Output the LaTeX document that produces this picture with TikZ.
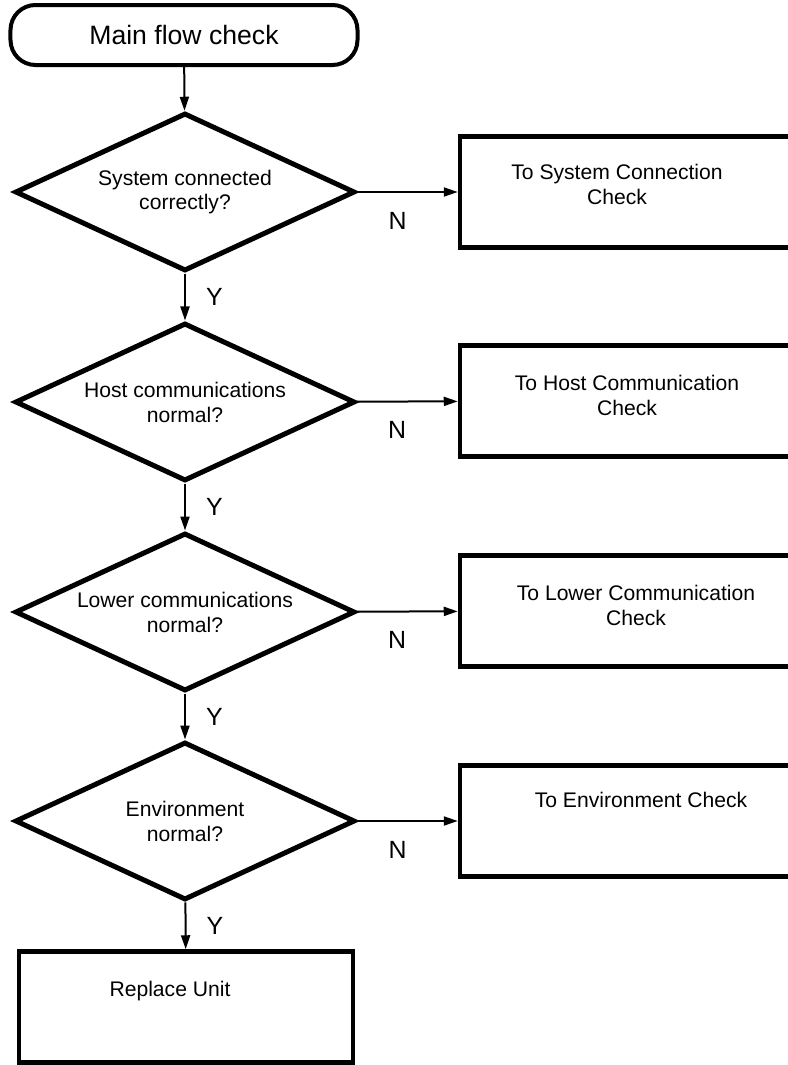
\documentclass[tikz,border=0pt]{standalone}
\usepackage{fontspec}
\setmainfont{Liberation Sans}
\usetikzlibrary{arrows.meta,positioning,shapes.geometric}

\begin{document}
\begin{tikzpicture}[x=1bp,y=-1bp,>={Triangle[length=14bp,width=9bp]},
  font=\fontsize{21.2}{25}\selectfont,
  term/.style={draw,line width=4bp,rounded corners=25bp,minimum width=347bp,minimum height=60bp,font=\fontsize{26.7}{30}\selectfont},
  decide/.style={draw,diamond,line width=5bp,inner sep=0pt,shape aspect=2.15,minimum width=340bp,minimum height=158bp,align=center},
  outbox/.style={draw,line width=4.5bp,minimum width=334bp,minimum height=111bp},
  boxtext/.style={align=center,inner sep=0pt},
  flow/.style={->,line width=2bp},
  yes/.style={right,inner sep=0pt,xshift=20bp,font=\fontsize{25}{30}\selectfont},
  no/.style={below,inner sep=0pt,yshift=-19bp,font=\fontsize{25}{30}\selectfont}]
  \path[use as bounding box] (0,0) rectangle (788,1065);
  \clip (0,0) rectangle (788,1065);
  % main column
  \node[term] (start) at (184,35) {Main flow check};
  \node[decide] (d1) at (185,192) {System connected\\ correctly?};
  \node[decide] (d2) at (185,402) {Host communications\\ normal?};
  \node[decide] (d3) at (185,612) {Lower communications\\ normal?};
  \node[decide] (d4) at (185,821) {Environment\\ normal?};
  \node[outbox] (rep) at (186,1007) {};
  \node[boxtext,below=32bp of rep.north,xshift=-16bp] (reptxt) {Replace Unit};
  % right column
  \node[outbox] (b1) at (627,192) {};
  \node[outbox] (b2) at (627,401) {};
  \node[outbox] (b3) at (627,611) {};
  \node[outbox] (b4) at (627,821) {};
  \node[boxtext,below=30bp of b1.north,xshift=-10bp] (b1txt) {To System Connection\\ Check};
  \node[boxtext,below=32bp of b2.north] (b2txt) {To Host Communication\\ Check};
  \node[boxtext,below=32bp of b3.north,xshift=9bp] (b3txt) {To Lower Communication\\ Check};
  \node[boxtext,below=29bp of b4.north,xshift=14bp] (b4txt) {To Environment Check};
  % connectors
  \draw[flow] (start) -- (d1);
  \draw[flow] (d1) -- node[yes] (y1) {Y} (d2);
  \draw[flow] (d2) -- node[yes] (y2) {Y} (d3);
  \draw[flow] (d3) -- node[yes] (y3) {Y} (d4);
  \draw[flow] (d4) -- node[yes] (y4) {Y} (rep);
  \draw[flow] (d1) -- node[no,pos=0.4] (n1) {N} (b1);
  \draw[flow] (d2) -- node[no,pos=0.4] (n2) {N} (b2);
  \draw[flow] (d3) -- node[no,pos=0.4] (n3) {N} (b3);
  \draw[flow] (d4) -- node[no,pos=0.4] (n4) {N} (b4);
\end{tikzpicture}
\end{document}
